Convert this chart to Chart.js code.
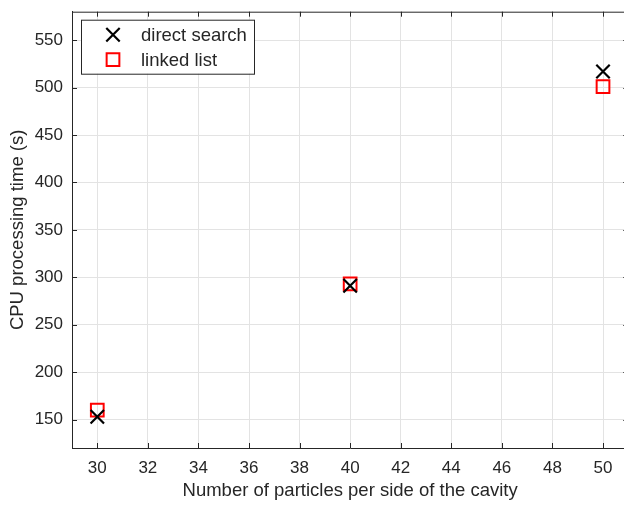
<!DOCTYPE html>
<html>
<head>
<meta charset="utf-8">
<script src="https://cdn.jsdelivr.net/npm/chart.js@4.4.1/dist/chart.umd.min.js"></script>
<style>
  html, body { margin: 0; padding: 0; background: #fff; overflow: hidden; }
  #wrap { position: relative; width: 640px; height: 505px; }
</style>
</head>
<body>
<div id="wrap"><canvas id="c" width="640" height="505"></canvas></div>
<script>
// Particles per side of the cavity
const particlesPerSide = [30, 40, 50];
// CPU processing time (s)
const directSearch = [153, 291, 517];
const linkedList = [160, 293, 501];
// Axis ticks
const xTicks = [30, 32, 34, 36, 38, 40, 42, 44, 46, 48, 50];
const yTicks = [150, 200, 250, 300, 350, 400, 450, 500, 550];
const seriesNames = ['direct search', 'linked list'];

const AXIS = '#262626';
const FONT = '"Liberation Sans", Arial, Helvetica, sans-serif';

const toPoints = (xs, ys) => xs.map((x, i) => ({ x, y: ys[i] }));

// Inward tick marks and the top border of the axes box
const boxTicks = {
  id: 'boxTicks',
  afterDatasetsDraw(chart) {
    const { ctx, chartArea: a, scales: { x, y } } = chart;
    const len = 5;
    ctx.save();
    ctx.strokeStyle = AXIS;
    ctx.lineWidth = 1;
    ctx.beginPath();
    ctx.moveTo(a.left, a.top + 0.5);
    ctx.lineTo(a.right, a.top + 0.5);
    xTicks.forEach(v => {
      const px = Math.round(x.getPixelForValue(v)) + 0.5;
      ctx.moveTo(px, a.bottom); ctx.lineTo(px, a.bottom - len);
      ctx.moveTo(px, a.top); ctx.lineTo(px, a.top + len);
    });
    yTicks.forEach(v => {
      const py = Math.round(y.getPixelForValue(v)) + 0.5;
      ctx.moveTo(a.left, py); ctx.lineTo(a.left + len, py);
      ctx.moveTo(a.right, py); ctx.lineTo(a.right - len, py);
    });
    ctx.stroke();
    ctx.restore();
  }
};

// Boxed legend in the upper-left corner of the plot
const boxLegend = {
  id: 'boxLegend',
  afterDraw(chart) {
    const { ctx, chartArea: a } = chart;
    const bx = a.left + 9, by = a.top + 8, bw = 173, bh = 54;
    ctx.save();
    ctx.fillStyle = '#fff';
    ctx.fillRect(bx, by, bw, bh);
    ctx.strokeStyle = AXIS;
    ctx.lineWidth = 1;
    ctx.strokeRect(bx + 0.5, by + 0.5, bw, bh);
    ctx.font = '18.5px ' + FONT;
    ctx.textBaseline = 'middle';
    chart.data.datasets.forEach((ds, i) => {
      const cy = by + 15 + i * 25;
      const cx = bx + 32;
      ctx.lineWidth = ds.pointBorderWidth;
      ctx.strokeStyle = ds.pointBorderColor;
      ctx.fillStyle = 'rgba(0,0,0,0)';
      Chart.helpers.drawPoint(ctx, {
        pointStyle: ds.pointStyle, radius: ds.pointRadius, rotation: 0,
        borderWidth: ds.pointBorderWidth
      }, cx, cy);
      ctx.fillStyle = AXIS;
      ctx.fillText(seriesNames[i], bx + 60, cy + 1);
    });
    ctx.restore();
  }
};

const noEdgePadding = s => {
  s.paddingTop = 0; s.paddingBottom = 0;
  s.paddingLeft = 0; s.paddingRight = 0;
};

new Chart(document.getElementById('c'), {
  type: 'scatter',
  data: {
    datasets: [
      {
        label: seriesNames[0],
        data: toPoints(particlesPerSide, directSearch),
        pointStyle: 'crossRot',
        pointRadius: 9.5,
        pointHoverRadius: 9.5,
        pointBorderWidth: 2.2,
        pointBorderColor: '#000000',
        pointBackgroundColor: 'rgba(0,0,0,0)',
        showLine: false
      },
      {
        label: seriesNames[1],
        data: toPoints(particlesPerSide, linkedList),
        pointStyle: 'rect',
        pointRadius: 9,
        pointHoverRadius: 9,
        pointBorderWidth: 2,
        pointBorderColor: '#ff0000',
        pointBackgroundColor: 'rgba(0,0,0,0)',
        showLine: false
      }
    ]
  },
  options: {
    responsive: false,
    animation: false,
    layout: { padding: { top: 9, right: 11, left: 0, bottom: 0 } },
    plugins: { legend: { display: false }, tooltip: { enabled: false } },
    scales: {
      x: {
        type: 'linear',
        min: 29, max: 51,
        afterBuildTicks: s => { s.ticks = xTicks.map(v => ({ value: v })); },
        afterFit: s => { s.height = 57; noEdgePadding(s); },
        grid: { color: '#e3e3e3', drawTicks: false },
        border: { color: AXIS, width: 1 },
        ticks: { color: AXIS, font: { family: FONT, size: 17 }, padding: 10, maxRotation: 0 },
        title: {
          display: true,
          text: 'Number of particles per side of the cavity',
          color: AXIS,
          font: { family: FONT, size: 18.5 },
          padding: { top: 0, bottom: 3 }
        }
      },
      y: {
        type: 'linear',
        min: 120, max: 580,
        afterBuildTicks: s => { s.ticks = yTicks.map(v => ({ value: v })); },
        afterFit: s => { s.width = 72; noEdgePadding(s); },
        grid: { color: '#e3e3e3', drawTicks: false },
        border: { color: AXIS, width: 1 },
        ticks: { color: AXIS, font: { family: FONT, size: 17 }, padding: 9 },
        title: {
          display: true,
          text: 'CPU processing time (s)',
          color: AXIS,
          font: { family: FONT, size: 18.5 },
          padding: { top: 7, bottom: 0 }
        }
      }
    }
  },
  plugins: [boxTicks, boxLegend]
});
</script>
</body>
</html>
